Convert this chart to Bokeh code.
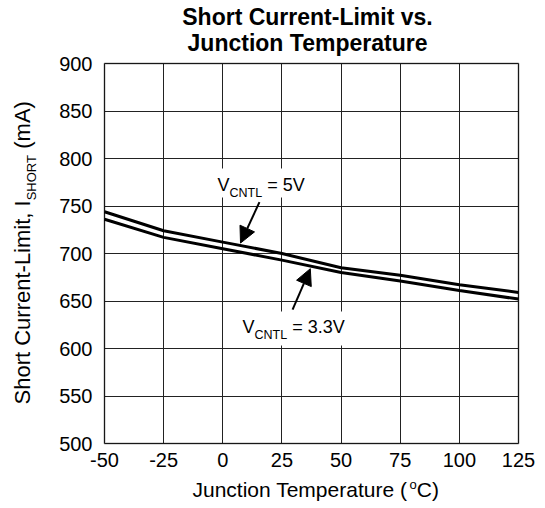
import math
from bokeh.plotting import figure
from bokeh.models import (Label, Arrow, NormalHead, FixedTicker, Range1d, BoxAnnotation,
                          PrintfTickFormatter, Grid)
from bokeh.embed import file_html
from bokeh.resources import INLINE

# ---- data ----
temps = [-50, -25, 0, 25, 50, 75, 100, 125]
i_short_5v = [744, 724, 712, 700, 685, 677, 667, 659]
i_short_3v3 = [736, 717, 705, 693, 680, 671, 661, 652]
x_ticks = [-50, -25, 0, 25, 50, 75, 100, 125]
y_ticks = [500, 550, 600, 650, 700, 750, 800, 850, 900]

# ---- layout: canvas size and pixel box of the chart area ----
CW, CH = 545, 508
BL, BT, BR, BB = 104, 63, 518, 443
FONT = "Liberation Sans"

xmin, xmax = x_ticks[0], x_ticks[-1]
ymin, ymax = y_ticks[0], y_ticks[-1]
kx = (BR - BL) / (xmax - xmin)
ky = (BB - BT) / (ymax - ymin)
x0 = xmin - BL / kx
x1 = x0 + CW / kx
y1 = ymax + BT / ky
y0 = y1 - CH / ky


def dx(px):
    return x0 + px / kx


def dy(py):
    return y1 - py / ky


# Arial / Liberation Sans advance widths (per em)
AW = {'S': .667, 'h': .556, 'o': .556, 'r': .333, 't': .278, ' ': .278, 'C': .722,
      'u': .556, 'e': .556, 'n': .556, '-': .333, 'L': .556, 'i': .222, 'm': .833,
      ',': .278, 'I': .278, 'H': .722, 'O': .778, 'R': .722, 'T': .611, '(': .333,
      ')': .333, 'A': .667, 'V': .667, 'N': .722, '=': .584, '5': .556, '3': .556,
      '.': .278, 'J': .5, 'c': .5, 'p': .556, 'a': .556}


def tw(s, size):
    return sum(AW.get(ch, .556) for ch in s) * size


p = figure(width=CW, height=CH, output_backend="svg", toolbar_location=None,
           x_range=Range1d(x0, x1), y_range=Range1d(y0, y1), min_border=0)
p.background_fill_color = "white"
p.border_fill_color = "white"
p.outline_line_color = None

xa, ya = p.xaxis[0], p.yaxis[0]
xa.fixed_location = ymin
ya.fixed_location = xmin
xa.bounds = (xmin, xmax)
ya.bounds = (ymin, ymax)
for ax in (xa, ya):
    ax.axis_line_color = None
    ax.major_tick_line_color = None
    ax.minor_tick_line_color = None
    ax.major_tick_in = 0
    ax.major_tick_out = 0
    ax.major_label_text_font = FONT
    ax.major_label_text_font_size = "20px"
    ax.major_label_text_color = "black"
    ax.formatter = PrintfTickFormatter(format="%d")
xa.ticker = FixedTicker(ticks=x_ticks)
ya.ticker = FixedTicker(ticks=y_ticks)
xa.major_label_standoff = 9
ya.major_label_standoff = 12

xg, yg = p.xgrid[0], p.ygrid[0]
xg.ticker = FixedTicker(ticks=x_ticks)
yg.ticker = FixedTicker(ticks=y_ticks)
has_cross = "cross_bounds" in Grid.properties()
if has_cross:
    xg.bounds = (xmin, xmax)
    yg.bounds = (ymin, ymax)
    xg.cross_bounds = (ymin, ymax)
    yg.cross_bounds = (xmin, xmax)
    for g in (xg, yg):
        g.grid_line_color = "#222222"
        g.grid_line_width = 1
else:
    xg.visible = False
    yg.visible = False
    p.segment(x0=x_ticks, y0=[ymin] * len(x_ticks), x1=x_ticks, y1=[ymax] * len(x_ticks),
              line_color="#222222", line_width=1)
    p.segment(x0=[xmin] * len(y_ticks), y0=y_ticks, x1=[xmax] * len(y_ticks), y1=y_ticks,
              line_color="#222222", line_width=1)

p.line(temps, i_short_5v, line_color="black", line_width=3)
p.line(temps, i_short_3v3, line_color="black", line_width=3)

# chart border
p.add_layout(BoxAnnotation(left=xmin, right=xmax, bottom=ymin, top=ymax,
                           fill_alpha=0, line_color="black", line_width=2))

BASE = 0.39  # renderer places the alphabetic baseline somewhat low


def put(x, y, text, size, angle=0.0, align="left", bold=False):
    if angle == 0.0:
        y -= BASE * size
    else:
        x -= BASE * size
    p.add_layout(Label(x=dx(x), y=dy(y), text=text, text_font=FONT,
                       text_font_size=f"{size}px",
                       text_font_style="bold" if bold else "normal",
                       text_color="black", text_baseline="alphabetic",
                       text_align=align, angle=angle))


def white_box(l, t, r, b):
    p.add_layout(BoxAnnotation(left=dx(l), right=dx(r), top=dy(t), bottom=dy(b),
                               fill_color="white", fill_alpha=1, line_color=None))


def sub_label(x, y, main, sub, rest, size, subsize, drop):
    put(x, y, main, size)
    x += tw(main, size)
    put(x, y + drop, sub, subsize)
    x += tw(sub, subsize) + tw(" ", size)
    put(x, y, rest, size)


# annotation labels with white background
white_box(214, 168, 303, 197)
sub_label(217, 192, "V", "CNTL", "= 5V", 18, 12.5, 5)
white_box(238, 311, 346, 345)
sub_label(242, 334, "V", "CNTL", "= 3.3V", 18, 12.5, 5)

# arrows (data units)
p.add_layout(Arrow(end=NormalHead(size=16, fill_color="black", line_color="black"),
                   x_start=15.5, y_start=754, x_end=7.5, y_end=711,
                   line_color="black", line_width=2))
p.add_layout(Arrow(end=NormalHead(size=16, fill_color="black", line_color="black"),
                   x_start=29.5, y_start=641, x_end=37.0, y_end=684,
                   line_color="black", line_width=2))

# title
put(307, 25, "Short Current-Limit vs.", 23, align="center", bold=True)
put(307, 51, "Junction Temperature", 23, align="center", bold=True)

# x axis label with superscript
xl = 192
put(xl, 497, "Junction Temperature (", 21)
xl += tw("Junction Temperature (", 21)
put(xl, 489, "o", 13)
xl += tw("o", 13)
put(xl, 497, "C)", 21)

# y axis label (rotated) with subscript
yb = 404
bx = 31
a = math.pi / 2
put(bx, yb, "Short Current-Limit, I", 22, angle=a)
yb -= tw("Short Current-Limit, I", 22)
put(bx + 5, yb, "SHORT", 13, angle=a)
yb -= tw("SHORT", 13) + tw(" ", 22)
put(bx, yb, "(mA)", 22, angle=a)

open("out.html", "w").write(file_html(p, INLINE))
